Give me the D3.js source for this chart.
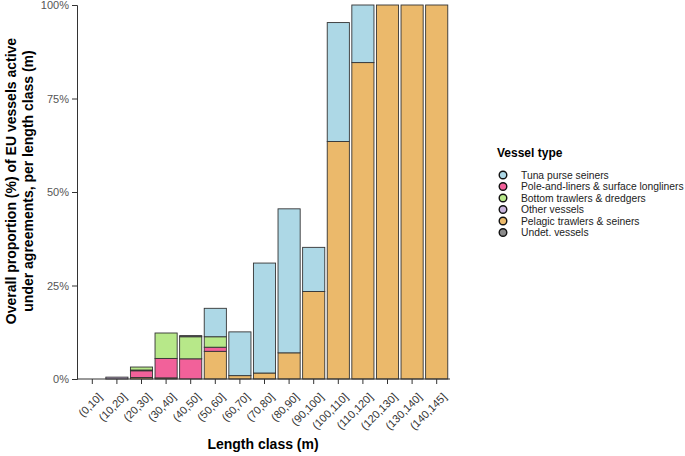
<!DOCTYPE html>
<html lang="en">
<head>
  <meta charset="UTF-8">
  <title>EU vessels under agreements</title>
  <style>
    * { margin: 0; }
    body { background: #fff; font-family: "Liberation Sans", Arial, Helvetica, sans-serif; }
    .tick text { font-size: 11px; }
    .axis-title { font-size: 14px; font-weight: bold; fill: #000; }
  </style>
</head>
<body>
  <div id="chart"></div>
  <script src="https://cdnjs.cloudflare.com/ajax/libs/d3/7.8.5/d3.min.js"></script>
  <script>
    // categories
    const lengthClasses = ['(0,10]', '(10,20]', '(20,30]', '(30,40]', '(40,50]', '(50,60]', '(60,70]',
      '(70,80]', '(80,90]', '(90,100]', '(100,110]', '(110,120]', '(120,130]', '(130,140]', '(140,145]'];

    // series values (% of vessels)
    const pelagic = [0, 0, 0.4, 0.3, 0, 7.4, 0.9, 1.6, 7.0, 23.4, 63.5, 84.6, 100, 100, 100];
    const poleLiners = [0, 0, 1.8, 5.2, 5.4, 1.1, 0, 0, 0, 0, 0, 0, 0, 0, 0];
    const other = [0, 0.5, 0.2, 0, 0, 0, 0, 0, 0, 0, 0, 0, 0, 0, 0];
    const bottomTrawl = [0, 0, 0.8, 6.8, 5.9, 2.8, 0, 0, 0, 0, 0, 0, 0, 0, 0];
    const undet = [0, 0, 0, 0, 0.3, 0, 0, 0, 0, 0, 0, 0, 0, 0, 0];
    const tuna = [0, 0, 0, 0, 0, 7.6, 11.7, 29.4, 38.5, 11.8, 31.8, 15.4, 0, 0, 0];

    const yTicks = [0, 25, 50, 75, 100];

    // legend order
    const legendNames = ['Tuna purse seiners', 'Pole-and-liners & surface longliners', 'Bottom trawlers & dredgers',
      'Other vessels', 'Pelagic trawlers & seiners', 'Undet. vessels'];
    const colors = {
      'Tuna purse seiners': '#add8e6',
      'Pole-and-liners & surface longliners': '#f2619a',
      'Bottom trawlers & dredgers': '#b7e889',
      'Other vessels': '#c8b4dc',
      'Pelagic trawlers & seiners': '#ebb96b',
      'Undet. vessels': '#8a8a8a'
    };

    // stacking order, bottom to top
    const stackKeys = ['Pelagic trawlers & seiners', 'Pole-and-liners & surface longliners', 'Other vessels',
      'Bottom trawlers & dredgers', 'Undet. vessels', 'Tuna purse seiners'];
    const seriesByName = {
      'Pelagic trawlers & seiners': pelagic,
      'Pole-and-liners & surface longliners': poleLiners,
      'Other vessels': other,
      'Bottom trawlers & dredgers': bottomTrawl,
      'Undet. vessels': undet,
      'Tuna purse seiners': tuna
    };

    const rows = lengthClasses.map((c, i) => {
      const r = { cls: c };
      stackKeys.forEach(k => { r[k] = seriesByName[k][i]; });
      return r;
    });

    const width = 685, height = 456;
    const svg = d3.select('#chart').append('svg')
      .attr('width', width)
      .attr('height', height);

    const x = d3.scaleBand()
      .domain(lengthClasses)
      .range([80, 449])
      .paddingInner(0.1)
      .paddingOuter(0.05);

    const y = d3.scaleLinear()
      .domain([0, 100])
      .range([379, 5]);

    const stacked = d3.stack().keys(stackKeys)(rows);

    svg.append('g')
      .selectAll('g')
      .data(stacked)
      .join('g')
      .attr('fill', d => colors[d.key])
      .selectAll('rect')
      .data(d => d.filter(p => p[1] - p[0] > 0))
      .join('rect')
      .attr('x', d => x(d.data.cls))
      .attr('width', x.bandwidth())
      .attr('y', d => y(d[1]))
      .attr('height', d => y(d[0]) - y(d[1]))
      .attr('stroke', '#333')
      .attr('stroke-width', 0.9);

    // y axis
    const yAxis = svg.append('g')
      .attr('transform', 'translate(77,0)')
      .call(d3.axisLeft(y).tickValues(yTicks).tickFormat(d => d + '%').tickSize(5).tickPadding(3));
    yAxis.select('.domain').attr('stroke', '#333');
    yAxis.selectAll('.tick line').attr('stroke', '#333');
    yAxis.selectAll('.tick text').attr('fill', '#555');

    // x axis
    const xAxis = svg.append('g')
      .attr('transform', 'translate(0,379)')
      .call(d3.axisBottom(x).tickSize(5).tickSizeOuter(0));
    xAxis.select('.domain').attr('stroke', '#333').attr('d', 'M77,0H450');
    xAxis.selectAll('.tick line').attr('stroke', '#333');
    xAxis.selectAll('.tick text')
      .attr('fill', '#333')
      .attr('font-size', 11.5)
      .attr('text-anchor', 'end')
      .attr('dy', 0)
      .attr('transform', 'translate(5,13) rotate(-45)');

    // axis titles
    svg.append('text')
      .attr('class', 'axis-title')
      .attr('x', 263)
      .attr('y', 449)
      .attr('text-anchor', 'middle')
      .text('Length class (m)');

    const yTitle = svg.append('text')
      .attr('class', 'axis-title')
      .attr('transform', 'translate(16,181) rotate(-90)')
      .attr('text-anchor', 'middle');
    yTitle.append('tspan').attr('x', 0).attr('y', 0).text('Overall proportion (%) of EU vessels active');
    yTitle.append('tspan').attr('x', 0).attr('y', 17).text('under agreements, per length class (m)');

    // legend
    const legend = svg.append('g');
    legend.append('text')
      .attr('x', 497)
      .attr('y', 157)
      .attr('font-size', 12)
      .attr('font-weight', 'bold')
      .text('Vessel type');

    const items = legend.selectAll('g.item')
      .data(legendNames)
      .join('g')
      .attr('class', 'item')
      .attr('transform', (d, i) => `translate(503,${175 + i * 11.5})`);
    items.append('circle')
      .attr('r', 3.8)
      .attr('fill', d => colors[d])
      .attr('stroke', '#111')
      .attr('stroke-width', 1.4);
    items.append('text')
      .attr('x', 18)
      .attr('y', 3.5)
      .attr('font-size', 10.3)
      .attr('fill', '#222')
      .text(d => d);
  </script>
</body>
</html>
